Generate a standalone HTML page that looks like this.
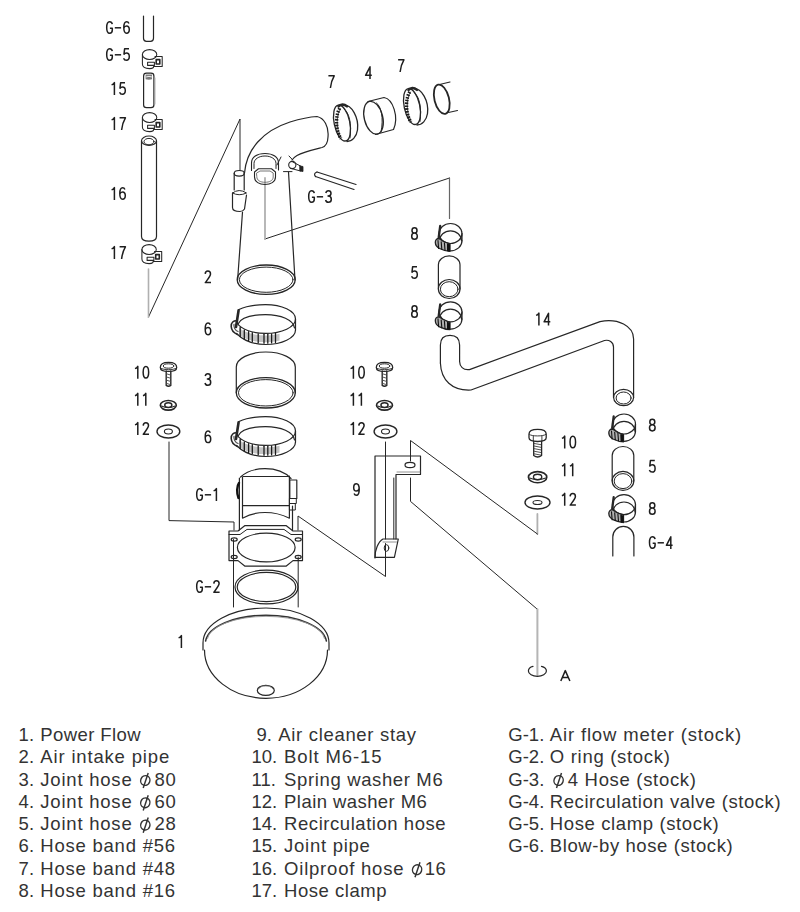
<!DOCTYPE html>
<html><head><meta charset="utf-8">
<style>
html,body{margin:0;padding:0;background:#fff;width:800px;height:912px;overflow:hidden}
svg{position:absolute;left:0;top:0}
.lg{position:absolute;font-family:"Liberation Sans",sans-serif;font-size:19px;color:#333;line-height:22.3px;white-space:pre;letter-spacing:0.25px;word-spacing:1px}
</style></head><body>
<svg width="800" height="912" viewBox="0 0 800 912">
<g fill="none" stroke="#262626" stroke-width="1.2" stroke-linejoin="round" stroke-linecap="round">
<path d="M148.5,317 L240,119 V170.5" stroke-width="1"/>
<path d="M148.5,269 V317" stroke="#b0b0b0" stroke-width="1.6"/>
<path d="M265,239 L449.5,178" stroke-width="1"/>
<path d="M265,178 V239" stroke="#b0b0b0" stroke-width="1.8"/>
<path d="M449.5,178 V218.5" stroke="#666" stroke-width="1.2"/>
<path d="M169,442 V520.6 L234,522 V530" stroke-width="1"/>
<path d="M385.5,442 V539 M385.5,543.5 V576.5 L298,516 V530" stroke-width="1"/>
<path d="M537.4,514 V534" stroke="#b0b0b0" stroke-width="1.8"/>
<path d="M537.4,534 L410.5,440.5 V461" stroke-width="1"/>
<path d="M410.5,478 V501.4 L537.4,609.3" stroke-width="1"/>
<path d="M537.4,609.3 V675" stroke="#b5b5b5" stroke-width="2"/>
<path d="M143.5,16 V38.3 Q143.5,41.3 146.5,41.3 H150.5 Q153.5,41.3 153.5,38.3 V16" />
<g transform="translate(0 -63)" stroke-width="1.05">
<ellipse cx="149.6" cy="117.5" rx="7.2" ry="4.9" />
<path d="M142.4,117.5 V127 Q142.4,131.6 149.6,131.6 Q152,131.6 153.5,130.5" />
<path d="M155,119.5 H162.2 V129.4 H153.5" />
<rect x="156.2" y="122.6" width="3.6" height="4.4" stroke-width="1.6"/>
<rect x="147.6" y="125.2" width="6.8" height="3.2"/>
</g>
<path d="M143.6,76 V105 Q143.6,107.7 146.5,107.7 H151 Q153.9,107.7 153.9,105 V76 Q153.9,73.2 151,73.2 H146.5 Q143.6,73.2 143.6,76 Z" />
<path d="M145.6,74.6 H152 V79.3 Q149,80.2 145.6,79.3 Z" fill="#7a7a7a" stroke="none"/>
<path d="M146.5,76.8 Q149,75.8 151.5,76.8" stroke="#eee" stroke-width="1"/>
<path d="M155,78 V104" stroke="#aaa" stroke-width="0.9"/>
<g transform="translate(0 0)" stroke-width="1.05">
<ellipse cx="149.6" cy="117.5" rx="7.2" ry="4.9" />
<path d="M142.4,117.5 V127 Q142.4,131.6 149.6,131.6 Q152,131.6 153.5,130.5" />
<path d="M155,119.5 H162.2 V129.4 H153.5" />
<rect x="156.2" y="122.6" width="3.6" height="4.4" stroke-width="1.6"/>
<rect x="147.6" y="125.2" width="6.8" height="3.2"/>
</g>
<path d="M141.5,140.75 V236.5 Q141.5,241.2 149,241.2 Q156.5,241.2 156.5,236.5 V140.75" />
<ellipse cx="149" cy="140.75" rx="7.5" ry="4.75" />
<ellipse cx="149" cy="141.6" rx="5" ry="3.2" stroke-width="1"/>
<g transform="translate(-0.5 132)" stroke-width="1.05">
<ellipse cx="149.6" cy="117.5" rx="7.2" ry="4.9" />
<path d="M142.4,117.5 V127 Q142.4,131.6 149.6,131.6 Q152,131.6 153.5,130.5" />
<path d="M155,119.5 H162.2 V129.4 H153.5" />
<rect x="156.2" y="122.6" width="3.6" height="4.4" stroke-width="1.6"/>
<rect x="147.6" y="125.2" width="6.8" height="3.2"/>
</g>
<path d="M244.5,173 C246.5,150 262,131 290,122 C300,119 309,117 317,116.5 C324,118 329,126 328,137 C327.8,142 327,146 322,147.5 C314,149.5 303,152 297,155.5 C294.5,157 293,158.5 292,160" />
<path d="M242.5,212 L237.6,280" />
<path d="M288.5,172 L295,280" />
<ellipse cx="266.2" cy="279.7" rx="29" ry="14.7" stroke-width="1.3"/>
<ellipse cx="266.2" cy="279.7" rx="26.8" ry="12.6" stroke-width="1"/>
<ellipse cx="239.2" cy="173.3" rx="5" ry="2.8" />
<path d="M234.2,173.3 V190 M244.2,173.3 V190" />
<path d="M232.5,193 V207.5 Q232.5,211.5 240,211.5 Q243,211.5 244.5,209 L246.5,195" />
<path d="M232.5,193 Q239,188 246.5,193 Q239,196.5 232.5,193" stroke-width="1"/>
<path d="M251.5,170.5 V163 C251.5,157 257,153.5 265,153.5 C273,153.5 278.5,157 278.5,163 V170" stroke-width="1.1"/>
<path d="M254,168.5 V163.5 C254,159 259,156 265,156 C271,156 276,159 276,163.5 V168.5" stroke-width="1"/>
<path d="M277,165 L281,157" stroke-width="1"/>
<path d="M254.5,172 L258.5,168.8 H271.5 L275.5,172 V177 C275.5,182 270.5,184.5 265,184.5 C259.5,184.5 254.5,182 254.5,177 Z" stroke-width="1.1"/>
<path d="M256.8,173 L260,171 H270 L273.2,173 V177 C273.2,180.5 269.5,182.3 265,182.3 C260.5,182.3 256.8,180.5 256.8,177 Z" stroke-width="0.9" stroke="#666"/>
<circle cx="292.3" cy="165" r="3.6" stroke-width="1.1"/>
<path d="M292.5,161.8 L301,166.3 M290.5,168.3 L300.5,171" stroke-width="1"/>
<path d="M300,166 L303,166.5 L303,171.5 L300,171 Z" fill="#222" stroke="#222" stroke-width="0.8"/>
<path d="M283.5,171.6 H292 M289,156 L292.8,160" stroke-width="1"/>
<path d="M317,172 L356,184.5 M315.5,176.5 L354,189.5" stroke-width="1.2"/>
<path d="M317,172 Q313,173.5 315.5,176.5" />
<g transform="translate(0 0)">
<ellipse cx="342" cy="123" rx="7.8" ry="18.3" transform="rotate(-12 342 123)" stroke-width="1.3"/>
<path d="M342.5,105 C352,104 359,118 357.5,130 C356.5,137 352,141.5 347,141.5" stroke-width="1.3"/>
<path d="M344,109 C349,112 352,124 350,138" stroke-width="1"/>
<path d="M340.5,108.5 C336.5,114 335.5,128 341,137.5" stroke-width="0.9" stroke="#555"/>
<path d="M339.8,108.5 C335.6,114 335,130 341,138.5" stroke="#1a1a1a" stroke-width="3.4" stroke-linecap="butt" stroke-dasharray="1.6 1.2"/>
<path d="M338.5,106.5 C340.5,104 344,103.5 347,106.5" stroke-width="2.4"/>
</g>
<g transform="translate(70 -16.5)">
<ellipse cx="342" cy="123" rx="7.8" ry="18.3" transform="rotate(-12 342 123)" stroke-width="1.3"/>
<path d="M342.5,105 C352,104 359,118 357.5,130 C356.5,137 352,141.5 347,141.5" stroke-width="1.3"/>
<path d="M344,109 C349,112 352,124 350,138" stroke-width="1"/>
<path d="M340.5,108.5 C336.5,114 335.5,128 341,137.5" stroke-width="0.9" stroke="#555"/>
<path d="M339.8,108.5 C335.6,114 335,130 341,138.5" stroke="#1a1a1a" stroke-width="3.4" stroke-linecap="butt" stroke-dasharray="1.6 1.2"/>
<path d="M338.5,106.5 C340.5,104 344,103.5 347,106.5" stroke-width="2.4"/>
</g>
<ellipse cx="373.5" cy="117.75" rx="9.2" ry="16.8" transform="rotate(-14 373.5 117.75)" stroke-width="1.3"/>
<path d="M376.5,103 C381,106 384,118 381,132" stroke-width="1"/>
<path d="M368,101.5 L384,97.5 C393,99 399,117 393.5,129.5 L375.5,134.5" stroke-width="1.2"/>
<ellipse cx="441.75" cy="99.25" rx="7.3" ry="15" transform="rotate(-14 441.75 99.25)" stroke-width="1.8"/>
<path d="M439.5,84.5 L450,82 M448.5,112.5 L457.5,110.5" stroke-width="1.1"/>
<g transform="translate(0 0)">
<path d="M239,309.5 C246,306 255,304.6 265.5,304.6 C282,304.6 295.5,311 295.5,319 C295.5,327 282,333.4 265.5,333.4 C252,333.4 241,329 237,323" />
<path d="M238,324 C241,317 251,314.6 265.5,314.6 C281,314.6 293.5,320 294.5,328" />
<path d="M295.5,319 V330" />
<path d="M236.5,333.5 C243,340 253,344.5 265.5,344.5 C282,344.5 295.5,338 295.5,330" />
<path d="M239.0,327.7 L239.5,328.2 L240.0,328.6 L240.5,329.0 L241.0,329.3 L241.5,329.6 L242.0,330.0 L242.5,330.2 L243.0,330.5 L243.5,330.8 L244.0,331.0 L244.5,331.3 L245.0,331.5 L245.5,331.7 L246.0,331.9 L246.5,332.1 L247.0,332.3 L247.5,332.5 L248.0,332.7 L248.5,332.9 L249.0,333.0 L249.5,333.2 L250.0,333.3 L250.5,333.5 L251.0,333.6 L251.5,333.7 L252.0,333.9 L252.5,334.0 L253.0,334.1 L253.5,334.2 L254.0,334.3 L254.5,334.4 L255.0,334.5 L255.5,334.6 L256.0,334.7 L256.5,334.7 L257.0,334.8 L257.5,334.9 L258.0,334.9 L258.5,335.0 L259.0,335.1 L259.5,335.1 L260.0,335.2 L260.5,335.2 L261.0,335.2 L261.5,335.3 L262.0,335.3 L262.5,335.3 L263.0,335.3 L263.5,335.4 L264.0,335.4 L264.5,335.4 L265.0,335.4 L265.5,335.4 L266.0,335.4 L266.5,335.4 L267.0,335.4 L267.5,335.4 L268.0,335.3 L268.5,335.3 L269.0,335.3 L269.5,335.3 L270.0,335.2 L270.5,335.2 L271.0,335.2 L271.5,335.1 L272.0,335.1 L272.5,335.0 L273.0,334.9 L273.5,334.9 L274.0,334.8 L274.5,334.7 L275.0,334.7 L275.5,334.6 L276.0,334.5 L276.5,334.4 L277.0,334.3 L277.5,334.2 L278.0,334.1 L278.5,334.0 L279.0,333.9 L279.5,333.7 L279.5,340.5 L279.0,340.7 L278.5,340.8 L278.0,340.9 L277.5,341.0 L277.0,341.1 L276.5,341.2 L276.0,341.3 L275.5,341.4 L275.0,341.5 L274.5,341.5 L274.0,341.6 L273.5,341.7 L273.0,341.7 L272.5,341.8 L272.0,341.9 L271.5,341.9 L271.0,342.0 L270.5,342.0 L270.0,342.0 L269.5,342.1 L269.0,342.1 L268.5,342.1 L268.0,342.1 L267.5,342.2 L267.0,342.2 L266.5,342.2 L266.0,342.2 L265.5,342.2 L265.0,342.2 L264.5,342.2 L264.0,342.2 L263.5,342.2 L263.0,342.1 L262.5,342.1 L262.0,342.1 L261.5,342.1 L261.0,342.0 L260.5,342.0 L260.0,342.0 L259.5,341.9 L259.0,341.9 L258.5,341.8 L258.0,341.7 L257.5,341.7 L257.0,341.6 L256.5,341.5 L256.0,341.5 L255.5,341.4 L255.0,341.3 L254.5,341.2 L254.0,341.1 L253.5,341.0 L253.0,340.9 L252.5,340.8 L252.0,340.7 L251.5,340.5 L251.0,340.4 L250.5,340.3 L250.0,340.1 L249.5,340.0 L249.0,339.8 L248.5,339.7 L248.0,339.5 L247.5,339.3 L247.0,339.1 L246.5,338.9 L246.0,338.7 L245.5,338.5 L245.0,338.3 L244.5,338.1 L244.0,337.8 L243.5,337.6 L243.0,337.3 L242.5,337.0 L242.0,336.8 L241.5,336.4 L241.0,336.1 L240.5,335.8 L240.0,335.4 L239.5,335.0 L239.0,334.5 Z" fill="#8a8a8a" stroke="none" opacity="0.5"/>
<line x1="240.2" y1="327.5" x2="240.2" y2="336.5" stroke-width="1.3" stroke="#1a1a1a"/>
<line x1="244.3" y1="330.0" x2="244.3" y2="339.0" stroke-width="1.3" stroke="#1a1a1a"/>
<line x1="248.6" y1="331.7" x2="248.6" y2="340.7" stroke-width="1.3" stroke="#1a1a1a"/>
<line x1="252.3" y1="332.7" x2="252.3" y2="341.7" stroke-width="1.3" stroke="#1a1a1a"/>
<line x1="258.2" y1="333.8" x2="258.2" y2="342.8" stroke-width="1.3" stroke="#1a1a1a"/>
<line x1="264.0" y1="334.2" x2="264.0" y2="343.2" stroke-width="1.3" stroke="#1a1a1a"/>
<line x1="267.8" y1="334.2" x2="267.8" y2="343.2" stroke-width="1.3" stroke="#1a1a1a"/>
<line x1="271.6" y1="333.9" x2="271.6" y2="342.9" stroke-width="1.3" stroke="#1a1a1a"/>
<line x1="275.5" y1="333.4" x2="275.5" y2="342.4" stroke-width="1.3" stroke="#1a1a1a"/>
<path d="M238.6,310.3 L236,327" stroke-width="2.6"/>
<path d="M237,320.8 C233.5,320.5 231,322.5 231.2,326.5 C231.4,330 234,333 237.5,334.5" stroke-width="1.6"/>
<path d="M234,324.5 C233.5,327 235,330.5 238,331.5" stroke-width="1.3" stroke="#555"/>
</g>
<path d="M236.3,392.8 V367 A29.5,15 0 0 1 295.3,367 V392.8" />
<ellipse cx="265.8" cy="392.8" rx="29.5" ry="15.2" stroke-width="1.3"/>
<ellipse cx="265.8" cy="392.8" rx="27.3" ry="13.2" stroke-width="1"/>
<g transform="translate(0 112)">
<path d="M239,309.5 C246,306 255,304.6 265.5,304.6 C282,304.6 295.5,311 295.5,319 C295.5,327 282,333.4 265.5,333.4 C252,333.4 241,329 237,323" />
<path d="M238,324 C241,317 251,314.6 265.5,314.6 C281,314.6 293.5,320 294.5,328" />
<path d="M295.5,319 V330" />
<path d="M236.5,333.5 C243,340 253,344.5 265.5,344.5 C282,344.5 295.5,338 295.5,330" />
<path d="M239.0,327.7 L239.5,328.2 L240.0,328.6 L240.5,329.0 L241.0,329.3 L241.5,329.6 L242.0,330.0 L242.5,330.2 L243.0,330.5 L243.5,330.8 L244.0,331.0 L244.5,331.3 L245.0,331.5 L245.5,331.7 L246.0,331.9 L246.5,332.1 L247.0,332.3 L247.5,332.5 L248.0,332.7 L248.5,332.9 L249.0,333.0 L249.5,333.2 L250.0,333.3 L250.5,333.5 L251.0,333.6 L251.5,333.7 L252.0,333.9 L252.5,334.0 L253.0,334.1 L253.5,334.2 L254.0,334.3 L254.5,334.4 L255.0,334.5 L255.5,334.6 L256.0,334.7 L256.5,334.7 L257.0,334.8 L257.5,334.9 L258.0,334.9 L258.5,335.0 L259.0,335.1 L259.5,335.1 L260.0,335.2 L260.5,335.2 L261.0,335.2 L261.5,335.3 L262.0,335.3 L262.5,335.3 L263.0,335.3 L263.5,335.4 L264.0,335.4 L264.5,335.4 L265.0,335.4 L265.5,335.4 L266.0,335.4 L266.5,335.4 L267.0,335.4 L267.5,335.4 L268.0,335.3 L268.5,335.3 L269.0,335.3 L269.5,335.3 L270.0,335.2 L270.5,335.2 L271.0,335.2 L271.5,335.1 L272.0,335.1 L272.5,335.0 L273.0,334.9 L273.5,334.9 L274.0,334.8 L274.5,334.7 L275.0,334.7 L275.5,334.6 L276.0,334.5 L276.5,334.4 L277.0,334.3 L277.5,334.2 L278.0,334.1 L278.5,334.0 L279.0,333.9 L279.5,333.7 L279.5,340.5 L279.0,340.7 L278.5,340.8 L278.0,340.9 L277.5,341.0 L277.0,341.1 L276.5,341.2 L276.0,341.3 L275.5,341.4 L275.0,341.5 L274.5,341.5 L274.0,341.6 L273.5,341.7 L273.0,341.7 L272.5,341.8 L272.0,341.9 L271.5,341.9 L271.0,342.0 L270.5,342.0 L270.0,342.0 L269.5,342.1 L269.0,342.1 L268.5,342.1 L268.0,342.1 L267.5,342.2 L267.0,342.2 L266.5,342.2 L266.0,342.2 L265.5,342.2 L265.0,342.2 L264.5,342.2 L264.0,342.2 L263.5,342.2 L263.0,342.1 L262.5,342.1 L262.0,342.1 L261.5,342.1 L261.0,342.0 L260.5,342.0 L260.0,342.0 L259.5,341.9 L259.0,341.9 L258.5,341.8 L258.0,341.7 L257.5,341.7 L257.0,341.6 L256.5,341.5 L256.0,341.5 L255.5,341.4 L255.0,341.3 L254.5,341.2 L254.0,341.1 L253.5,341.0 L253.0,340.9 L252.5,340.8 L252.0,340.7 L251.5,340.5 L251.0,340.4 L250.5,340.3 L250.0,340.1 L249.5,340.0 L249.0,339.8 L248.5,339.7 L248.0,339.5 L247.5,339.3 L247.0,339.1 L246.5,338.9 L246.0,338.7 L245.5,338.5 L245.0,338.3 L244.5,338.1 L244.0,337.8 L243.5,337.6 L243.0,337.3 L242.5,337.0 L242.0,336.8 L241.5,336.4 L241.0,336.1 L240.5,335.8 L240.0,335.4 L239.5,335.0 L239.0,334.5 Z" fill="#8a8a8a" stroke="none" opacity="0.5"/>
<line x1="240.2" y1="327.5" x2="240.2" y2="336.5" stroke-width="1.3" stroke="#1a1a1a"/>
<line x1="244.3" y1="330.0" x2="244.3" y2="339.0" stroke-width="1.3" stroke="#1a1a1a"/>
<line x1="248.6" y1="331.7" x2="248.6" y2="340.7" stroke-width="1.3" stroke="#1a1a1a"/>
<line x1="252.3" y1="332.7" x2="252.3" y2="341.7" stroke-width="1.3" stroke="#1a1a1a"/>
<line x1="258.2" y1="333.8" x2="258.2" y2="342.8" stroke-width="1.3" stroke="#1a1a1a"/>
<line x1="264.0" y1="334.2" x2="264.0" y2="343.2" stroke-width="1.3" stroke="#1a1a1a"/>
<line x1="267.8" y1="334.2" x2="267.8" y2="343.2" stroke-width="1.3" stroke="#1a1a1a"/>
<line x1="271.6" y1="333.9" x2="271.6" y2="342.9" stroke-width="1.3" stroke="#1a1a1a"/>
<line x1="275.5" y1="333.4" x2="275.5" y2="342.4" stroke-width="1.3" stroke="#1a1a1a"/>
<path d="M238.6,310.3 L236,327" stroke-width="2.6"/>
<path d="M237,320.8 C233.5,320.5 231,322.5 231.2,326.5 C231.4,330 234,333 237.5,334.5" stroke-width="1.6"/>
<path d="M234,324.5 C233.5,327 235,330.5 238,331.5" stroke-width="1.3" stroke="#555"/>
</g>
<path d="M240.6,477 C248,470 257,468.7 265,468.7 C273,468.7 283,470 291,478.5" />
<path d="M243,476.5 H289" />
<path d="M239.4,478 V530 M242.5,477 V518 M289.4,476 V518 M292.5,506 V530" />
<path d="M243,505.6 H289" />
<path d="M243,518 C250,514 258,512.5 265,512.5 C272,512.5 281,514 289,518" />
<rect x="289.8" y="480" width="7" height="18.5"/>
<rect x="289.8" y="498.5" width="6.5" height="5" stroke-width="1"/>
<rect x="289.8" y="503.5" width="5.5" height="6.5" stroke-width="1"/>
<path d="M239,483 C236.8,486 236.5,493 238.5,498" stroke-width="2.4" stroke="#111"/>
<path d="M229,531 H238 L245,525.6 H286 L293,531 H302.5 V560.6 H293 L286,566.2 H245 L238,560.6 H229 Z" stroke-width="1.2"/>
<path d="M229,534.5 H240 L247,529.4 H284 L291,534.5 H302.5" stroke-width="1"/>
<path d="M233.5,539.5 V560" stroke-width="1"/>
<ellipse cx="266.25" cy="547.5" rx="28.85" ry="14.4" stroke-width="1.2"/>
<ellipse cx="234.2" cy="539.5" rx="3" ry="1.6" stroke-width="1.2"/>
<ellipse cx="298.2" cy="539.5" rx="3" ry="1.6" stroke-width="1.2"/>
<ellipse cx="234.2" cy="557" rx="3" ry="1.6" stroke-width="1.2"/>
<ellipse cx="298.2" cy="557" rx="3" ry="1.6" stroke-width="1.2"/>
<path d="M233.5,560 V607 M298.2,557 V607" stroke-width="1"/>
<ellipse cx="266.5" cy="587" rx="31.5" ry="16.9" stroke-width="1.2"/>
<ellipse cx="266.5" cy="587" rx="29.3" ry="14.6" stroke-width="1.2"/>
<path d="M203,650 V643 A63,35 0 0 1 329,643 V650" stroke-width="1.2"/>
<path d="M205.6,641 A60.6,28 0 0 1 326.4,641" stroke-width="1.5" stroke="#333"/>
<path d="M207.5,638.5 A58.6,23.5 0 0 1 324.5,638.5" stroke-width="0.9" stroke="#999"/>
<path d="M204.5,650 A61.5,48.3 0 0 0 327.5,650" stroke-width="1.2"/>
<ellipse cx="265.8" cy="690.4" rx="8.5" ry="5" stroke-width="1.2"/>
<path d="M258.5,689 C260,686.5 263,686 265.8,686 C268.5,686 271.5,686.5 273,689" stroke-width="0.8" stroke="#888"/>
<path d="M160.3,367.4 C160.3,364.0 164.0,362.4 168.5,362.4 C173.0,362.4 176.7,364.0 176.7,367.4 C176.7,370.0 173.0,371.4 168.5,371.4 C164.0,371.4 160.3,370.0 160.3,367.4 Z" stroke-width="1.3"/>
<ellipse cx="168.5" cy="366.0" rx="5.2" ry="2.2" stroke-width="1"/>
<path d="M160.7,368.2 C163.5,370.2 173.5,370.2 176.3,368.2" stroke-width="0.9"/>
<path d="M166.2,370.9 V385.4 Q168.5,387.2 170.8,385.4 V370.9" stroke-width="1.4"/>
<line x1="166.9" y1="373.9" x2="170.1" y2="374.9" stroke-width="1" stroke="#555"/>
<line x1="166.9" y1="377.1" x2="170.1" y2="378.1" stroke-width="1" stroke="#555"/>
<line x1="166.9" y1="380.3" x2="170.1" y2="381.3" stroke-width="1" stroke="#555"/>
<line x1="166.9" y1="383.5" x2="170.1" y2="384.5" stroke-width="1" stroke="#555"/>
<ellipse cx="168.3" cy="405.3" rx="8" ry="4.8" stroke-width="1.6"/>
<ellipse cx="168.3" cy="405.1" rx="3.6" ry="2.304" stroke-width="1.4"/>
<path d="M161.5,406.1 Q168.3,409.3 175.10000000000002,406.1" stroke-width="1.1"/>
<ellipse cx="168.4" cy="431.5" rx="11.4" ry="6.5" stroke-width="1.4"/>
<ellipse cx="168.4" cy="431.5" rx="4" ry="2.5" stroke-width="1.1"/>
<path d="M376.3,367.4 C376.3,364.0 380.0,362.4 384.5,362.4 C389.0,362.4 392.7,364.0 392.7,367.4 C392.7,370.0 389.0,371.4 384.5,371.4 C380.0,371.4 376.3,370.0 376.3,367.4 Z" stroke-width="1.3"/>
<ellipse cx="384.5" cy="366.0" rx="5.2" ry="2.2" stroke-width="1"/>
<path d="M376.7,368.2 C379.5,370.2 389.5,370.2 392.3,368.2" stroke-width="0.9"/>
<path d="M382.2,370.9 V385.4 Q384.5,387.2 386.8,385.4 V370.9" stroke-width="1.4"/>
<line x1="382.9" y1="373.9" x2="386.1" y2="374.9" stroke-width="1" stroke="#555"/>
<line x1="382.9" y1="377.1" x2="386.1" y2="378.1" stroke-width="1" stroke="#555"/>
<line x1="382.9" y1="380.3" x2="386.1" y2="381.3" stroke-width="1" stroke="#555"/>
<line x1="382.9" y1="383.5" x2="386.1" y2="384.5" stroke-width="1" stroke="#555"/>
<ellipse cx="384.5" cy="405.3" rx="8" ry="4.8" stroke-width="1.6"/>
<ellipse cx="384.5" cy="405.1" rx="3.6" ry="2.304" stroke-width="1.4"/>
<path d="M377.7,406.1 Q384.5,409.3 391.3,406.1" stroke-width="1.1"/>
<ellipse cx="385.5" cy="431.5" rx="11.4" ry="6.5" stroke-width="1.4"/>
<ellipse cx="385.5" cy="431.5" rx="4" ry="2.5" stroke-width="1.1"/>
<path d="M529,434 C529,430.5 533,429.3 537.6,429.3 C542,429.3 546.2,430.5 546.2,434 V437.8 C546.2,440.2 542,441.5 537.6,441.5 C533,441.5 529,440.2 529,437.8 Z" stroke-width="1.3"/>
<path d="M529.5,434.5 C531,436.5 544,436.5 545.7,434.5" stroke-width="0.9"/>
<path d="M533.3,436.3 V441 M541.9,436.3 V441" stroke-width="0.9"/>
<path d="M533.7,441.3 V455.5 Q537.6,458.5 541.6,455.5 V441.3" stroke-width="1.3"/>
<line x1="534.5" y1="443.5" x2="540.8" y2="444.7" stroke-width="0.8"/>
<line x1="534.5" y1="446.1" x2="540.8" y2="447.3" stroke-width="0.8"/>
<line x1="534.5" y1="448.7" x2="540.8" y2="449.9" stroke-width="0.8"/>
<line x1="534.5" y1="451.3" x2="540.8" y2="452.5" stroke-width="0.8"/>
<line x1="534.5" y1="453.9" x2="540.8" y2="455.1" stroke-width="0.8"/>
<ellipse cx="537.6" cy="477.2" rx="9.2" ry="5.6" stroke-width="1.6"/>
<ellipse cx="537.6" cy="477.0" rx="4.14" ry="2.6879999999999997" stroke-width="1.4"/>
<path d="M529.6,478.0 Q537.6,481.2 545.6,478.0" stroke-width="1.1"/>
<ellipse cx="537.5" cy="502.5" rx="12.5" ry="6.5" stroke-width="1.4"/>
<ellipse cx="537.5" cy="502.5" rx="4.5" ry="2" stroke-width="1.1"/>
<path d="M375,558 V456 H420.5 V474.5 H396 V539" stroke-width="1.2"/>
<path d="M393.8,478 V539" stroke-width="1"/>
<path d="M397,472 H420" stroke-width="0.8" stroke="#777"/>
<path d="M383,539 H398.3 L394.4,557.4 H375 C375,550 378,542 383,539 Z" stroke-width="1.2"/>
<path d="M383,542 H396.5" stroke-width="0.8" stroke="#777"/>
<ellipse cx="386.5" cy="548" rx="2.3" ry="3.3" stroke-width="1"/>
<ellipse cx="410" cy="465" rx="5" ry="2.6" stroke-width="1.2"/>
<ellipse cx="450.5" cy="233.5" rx="11.5" ry="10" />
<path d="M439.5,240.8 A11.0,10 0 0 1 461.5,240.8" />
<path d="M439.0,240.8 A11.5,10 0 0 0 462.0,240.8" />
<path d="M462.0,233.5 V240.8" />
<path d="M440.2,226.0 L438.7,237.5" stroke-width="2.3"/>
<path d="M439.0,238.5 C434.0,238.5 434.0,245.5 439.5,248.5 C443.5,250.5 447.5,251.3 450.0,251.3 L450.0,244.0 C446.5,243.0 442.5,241.5 439.0,238.5 Z" fill="#b0b0b0" stroke="#222" stroke-width="1.3"/>
<line x1="438.0" y1="240.5" x2="438.6" y2="248.5" stroke="#111" stroke-width="1.1"/>
<line x1="441.2" y1="241.7" x2="441.8" y2="249.3" stroke="#111" stroke-width="1.1"/>
<line x1="444.4" y1="242.9" x2="445.0" y2="250.1" stroke="#111" stroke-width="1.1"/>
<line x1="447.6" y1="244.1" x2="448.2" y2="250.9" stroke="#111" stroke-width="1.1"/>
<path d="M447.0,243.8 L450.0,244.3 L450.0,251.3 L447.0,250.9 Z" fill="#111" stroke="none"/>
<path d="M438.4,289.0 V264.8 A10.8,9 0 0 1 460.0,264.8 V289.0" />
<ellipse cx="449.2" cy="289.0" rx="10.8" ry="9.5" />
<ellipse cx="449.2" cy="289.2" rx="8.8" ry="7.5" stroke-width="1"/>
<ellipse cx="450.5" cy="311.8" rx="11.5" ry="10" />
<path d="M439.5,319.1 A11.0,10 0 0 1 461.5,319.1" />
<path d="M439.0,319.1 A11.5,10 0 0 0 462.0,319.1" />
<path d="M462.0,311.8 V319.1" />
<path d="M440.2,304.3 L438.7,315.8" stroke-width="2.3"/>
<path d="M439.0,316.8 C434.0,316.8 434.0,323.8 439.5,326.8 C443.5,328.8 447.5,329.6 450.0,329.6 L450.0,322.3 C446.5,321.3 442.5,319.8 439.0,316.8 Z" fill="#b0b0b0" stroke="#222" stroke-width="1.3"/>
<line x1="438.0" y1="318.8" x2="438.6" y2="326.8" stroke="#111" stroke-width="1.1"/>
<line x1="441.2" y1="320.0" x2="441.8" y2="327.6" stroke="#111" stroke-width="1.1"/>
<line x1="444.4" y1="321.2" x2="445.0" y2="328.4" stroke="#111" stroke-width="1.1"/>
<line x1="447.6" y1="322.4" x2="448.2" y2="329.2" stroke="#111" stroke-width="1.1"/>
<path d="M447.0,322.1 L450.0,322.6 L450.0,329.6 L447.0,329.2 Z" fill="#111" stroke="none"/>
<path d="M440.4,363 V345 C440.4,338 444,335.4 450,335.4 C456,335.4 459.6,338 459.6,345 V361.5 C459.6,366 463,370.5 469.5,369.6 L600,321.6 C618,318 633.6,326 633.6,339 V397.5" stroke-width="1.2"/>
<path d="M440.4,363 C441,380 452,391 471,390 L604.5,340.5 C609,339.5 613.5,342 613.5,347 V397.5" stroke-width="1.2"/>
<ellipse cx="623.6" cy="397.5" rx="10" ry="8.2" stroke-width="1.2"/>
<ellipse cx="623.6" cy="398" rx="7.5" ry="6" stroke-width="1"/>
<ellipse cx="624" cy="424" rx="11.5" ry="10" />
<path d="M613.0,431.3 A11.0,10 0 0 1 635.0,431.3" />
<path d="M612.5,431.3 A11.5,10 0 0 0 635.5,431.3" />
<path d="M635.5,424 V431.3" />
<path d="M613.7,416.5 L612.2,428" stroke-width="2.3"/>
<path d="M612.5,429 C607.5,429 607.5,436 613,439 C617,441 621,441.8 623.5,441.8 L623.5,434.5 C620,433.5 616,432 612.5,429 Z" fill="#b0b0b0" stroke="#222" stroke-width="1.3"/>
<line x1="611.5" y1="431.0" x2="612.1" y2="439.0" stroke="#111" stroke-width="1.1"/>
<line x1="614.7" y1="432.2" x2="615.3" y2="439.8" stroke="#111" stroke-width="1.1"/>
<line x1="617.9" y1="433.4" x2="618.5" y2="440.6" stroke="#111" stroke-width="1.1"/>
<line x1="621.1" y1="434.6" x2="621.7" y2="441.4" stroke="#111" stroke-width="1.1"/>
<path d="M620.5,434.3 L623.5,434.8 L623.5,441.8 L620.5,441.4 Z" fill="#111" stroke="none"/>
<path d="M612.2,480.9 V455.5 A10.8,9 0 0 1 633.8,455.5 V480.9" />
<ellipse cx="623" cy="480.9" rx="10.8" ry="9.5" />
<ellipse cx="623" cy="481.09999999999997" rx="8.8" ry="7.5" stroke-width="1"/>
<ellipse cx="624" cy="504.7" rx="11.5" ry="10" />
<path d="M613.0,512.0 A11.0,10 0 0 1 635.0,512.0" />
<path d="M612.5,512.0 A11.5,10 0 0 0 635.5,512.0" />
<path d="M635.5,504.7 V512.0" />
<path d="M613.7,497.2 L612.2,508.7" stroke-width="2.3"/>
<path d="M612.5,509.7 C607.5,509.7 607.5,516.7 613,519.7 C617,521.7 621,522.5 623.5,522.5 L623.5,515.2 C620,514.2 616,512.7 612.5,509.7 Z" fill="#b0b0b0" stroke="#222" stroke-width="1.3"/>
<line x1="611.5" y1="511.7" x2="612.1" y2="519.7" stroke="#111" stroke-width="1.1"/>
<line x1="614.7" y1="512.9" x2="615.3" y2="520.5" stroke="#111" stroke-width="1.1"/>
<line x1="617.9" y1="514.1" x2="618.5" y2="521.3" stroke="#111" stroke-width="1.1"/>
<line x1="621.1" y1="515.3" x2="621.7" y2="522.1" stroke="#111" stroke-width="1.1"/>
<path d="M620.5,515.0 L623.5,515.5 L623.5,522.5 L620.5,522.1 Z" fill="#111" stroke="none"/>
<path d="M612.8,556 V537 A10.55,10.6 0 0 1 633.9,537 V556" stroke-width="1.2"/>
<path d="M533,666.3 C530,667 528.4,669 528.4,671 C528.4,674 532.5,676.4 537.4,676.4 C542.3,676.4 546.4,674 546.4,671 C546.4,669 544.5,667 541.5,666.3" stroke-width="1.2"/>
</g>
<g fill="none" stroke="#1e1e1e" stroke-width="1.5" stroke-linecap="butt" stroke-linejoin="round">
<path transform="translate(106.00 21.00)" d="M6.3,3.2 C6,1.6 5,0.7 3.6,0.7 C1.7,0.7 0.7,2.9 0.7,6.5 C0.7,10.1 1.7,12.3 3.6,12.3 C5.3,12.3 6.3,11.2 6.3,9 V7.2 H3.9"/>
<path transform="translate(114.50 21.00)" d="M0.3,6.8 H6.6"/>
<path transform="translate(123.00 21.00)" d="M5.9,2.4 C5.5,1.3 4.6,0.7 3.6,0.7 C1.8,0.7 0.8,2.9 0.8,6.6 C0.8,10.3 1.8,12.3 3.6,12.3 C5.3,12.3 6.3,10.8 6.3,8.6 C6.3,6.4 5.3,5 3.6,5 C2.3,5 1.3,5.8 0.9,7"/>
<path transform="translate(106.00 48.00)" d="M6.3,3.2 C6,1.6 5,0.7 3.6,0.7 C1.7,0.7 0.7,2.9 0.7,6.5 C0.7,10.1 1.7,12.3 3.6,12.3 C5.3,12.3 6.3,11.2 6.3,9 V7.2 H3.9"/>
<path transform="translate(114.50 48.00)" d="M0.3,6.8 H6.6"/>
<path transform="translate(123.00 48.00)" d="M6,0.8 H1.6 L1,6.2 C1.6,5.4 2.5,5 3.4,5 C5.2,5 6.3,6.3 6.3,8.6 C6.3,10.9 5.1,12.3 3.4,12.3 C2,12.3 1,11.5 0.6,10.2"/>
<path transform="translate(111.00 82.00)" d="M0.6,2.9 C1.8,2.5 2.9,1.6 3.4,0.6 V13"/>
<path transform="translate(119.00 82.00)" d="M6,0.8 H1.6 L1,6.2 C1.6,5.4 2.5,5 3.4,5 C5.2,5 6.3,6.3 6.3,8.6 C6.3,10.9 5.1,12.3 3.4,12.3 C2,12.3 1,11.5 0.6,10.2"/>
<path transform="translate(111.00 117.00)" d="M0.6,2.9 C1.8,2.5 2.9,1.6 3.4,0.6 V13"/>
<path transform="translate(119.00 117.00)" d="M0.6,0.8 H6.4 C4.6,3.8 3.2,7.6 2.6,13"/>
<path transform="translate(111.00 187.00)" d="M0.6,2.9 C1.8,2.5 2.9,1.6 3.4,0.6 V13"/>
<path transform="translate(119.00 187.00)" d="M5.9,2.4 C5.5,1.3 4.6,0.7 3.6,0.7 C1.8,0.7 0.8,2.9 0.8,6.6 C0.8,10.3 1.8,12.3 3.6,12.3 C5.3,12.3 6.3,10.8 6.3,8.6 C6.3,6.4 5.3,5 3.6,5 C2.3,5 1.3,5.8 0.9,7"/>
<path transform="translate(111.00 246.00)" d="M0.6,2.9 C1.8,2.5 2.9,1.6 3.4,0.6 V13"/>
<path transform="translate(119.00 246.00)" d="M0.6,0.8 H6.4 C4.6,3.8 3.2,7.6 2.6,13"/>
<path transform="translate(204.40 270.30)" d="M0.8,3.6 C0.9,1.7 2,0.7 3.5,0.7 C5.1,0.7 6.1,1.8 6.1,3.6 C6.1,5.6 4.5,7.4 0.9,12.3 H6.6"/>
<path transform="translate(204.40 322.40)" d="M5.9,2.4 C5.5,1.3 4.6,0.7 3.6,0.7 C1.8,0.7 0.8,2.9 0.8,6.6 C0.8,10.3 1.8,12.3 3.6,12.3 C5.3,12.3 6.3,10.8 6.3,8.6 C6.3,6.4 5.3,5 3.6,5 C2.3,5 1.3,5.8 0.9,7"/>
<path transform="translate(204.40 373.00)" d="M0.8,3 C1.1,1.5 2.1,0.7 3.4,0.7 C5,0.7 6,1.7 6,3.3 C6,5 5,6.1 3,6.1 C5.2,6.1 6.3,7.3 6.3,9.2 C6.3,11.1 5.1,12.3 3.4,12.3 C2,12.3 1,11.5 0.6,10"/>
<path transform="translate(204.40 430.30)" d="M5.9,2.4 C5.5,1.3 4.6,0.7 3.6,0.7 C1.8,0.7 0.8,2.9 0.8,6.6 C0.8,10.3 1.8,12.3 3.6,12.3 C5.3,12.3 6.3,10.8 6.3,8.6 C6.3,6.4 5.3,5 3.6,5 C2.3,5 1.3,5.8 0.9,7"/>
<path transform="translate(196.00 488.00)" d="M6.3,3.2 C6,1.6 5,0.7 3.6,0.7 C1.7,0.7 0.7,2.9 0.7,6.5 C0.7,10.1 1.7,12.3 3.6,12.3 C5.3,12.3 6.3,11.2 6.3,9 V7.2 H3.9"/>
<path transform="translate(204.50 488.00)" d="M0.3,6.8 H6.6"/>
<path transform="translate(213.00 488.00)" d="M0.6,2.9 C1.8,2.5 2.9,1.6 3.4,0.6 V13"/>
<path transform="translate(196.00 580.00)" d="M6.3,3.2 C6,1.6 5,0.7 3.6,0.7 C1.7,0.7 0.7,2.9 0.7,6.5 C0.7,10.1 1.7,12.3 3.6,12.3 C5.3,12.3 6.3,11.2 6.3,9 V7.2 H3.9"/>
<path transform="translate(204.50 580.00)" d="M0.3,6.8 H6.6"/>
<path transform="translate(213.00 580.00)" d="M0.8,3.6 C0.9,1.7 2,0.7 3.5,0.7 C5.1,0.7 6.1,1.8 6.1,3.6 C6.1,5.6 4.5,7.4 0.9,12.3 H6.6"/>
<path transform="translate(178.00 635.00)" d="M0.6,2.9 C1.8,2.5 2.9,1.6 3.4,0.6 V13"/>
<path transform="translate(327.80 75.00)" d="M0.6,0.8 H6.4 C4.6,3.8 3.2,7.6 2.6,13"/>
<path transform="translate(365.00 66.00)" d="M5,13 V0.8 L0.6,9.3 H6.8"/>
<path transform="translate(397.50 59.00)" d="M0.6,0.8 H6.4 C4.6,3.8 3.2,7.6 2.6,13"/>
<path transform="translate(308.00 190.00)" d="M6.3,3.2 C6,1.6 5,0.7 3.6,0.7 C1.7,0.7 0.7,2.9 0.7,6.5 C0.7,10.1 1.7,12.3 3.6,12.3 C5.3,12.3 6.3,11.2 6.3,9 V7.2 H3.9"/>
<path transform="translate(316.50 190.00)" d="M0.3,6.8 H6.6"/>
<path transform="translate(325.00 190.00)" d="M0.8,3 C1.1,1.5 2.1,0.7 3.4,0.7 C5,0.7 6,1.7 6,3.3 C6,5 5,6.1 3,6.1 C5.2,6.1 6.3,7.3 6.3,9.2 C6.3,11.1 5.1,12.3 3.4,12.3 C2,12.3 1,11.5 0.6,10"/>
<path transform="translate(411.00 227.00)" d="M3.5,6.1 C1.9,6.1 1,5 1,3.4 C1,1.7 2,0.7 3.5,0.7 C5,0.7 6,1.7 6,3.4 C6,5 5.1,6.1 3.5,6.1 C1.7,6.1 0.7,7.3 0.7,9.2 C0.7,11.1 1.8,12.3 3.5,12.3 C5.2,12.3 6.3,11.1 6.3,9.2 C6.3,7.3 5.3,6.1 3.5,6.1 Z"/>
<path transform="translate(411.00 266.00)" d="M6,0.8 H1.6 L1,6.2 C1.6,5.4 2.5,5 3.4,5 C5.2,5 6.3,6.3 6.3,8.6 C6.3,10.9 5.1,12.3 3.4,12.3 C2,12.3 1,11.5 0.6,10.2"/>
<path transform="translate(411.00 305.00)" d="M3.5,6.1 C1.9,6.1 1,5 1,3.4 C1,1.7 2,0.7 3.5,0.7 C5,0.7 6,1.7 6,3.4 C6,5 5.1,6.1 3.5,6.1 C1.7,6.1 0.7,7.3 0.7,9.2 C0.7,11.1 1.8,12.3 3.5,12.3 C5.2,12.3 6.3,11.1 6.3,9.2 C6.3,7.3 5.3,6.1 3.5,6.1 Z"/>
<path transform="translate(535.50 312.50)" d="M0.6,2.9 C1.8,2.5 2.9,1.6 3.4,0.6 V13"/>
<path transform="translate(543.50 312.50)" d="M5,13 V0.8 L0.6,9.3 H6.8"/>
<path transform="translate(134.40 365.70)" d="M0.6,2.9 C1.8,2.5 2.9,1.6 3.4,0.6 V13"/>
<path transform="translate(142.40 365.70)" d="M3.5,0.7 C1.5,0.7 0.75,3 0.75,6.5 C0.75,10 1.5,12.3 3.5,12.3 C5.5,12.3 6.25,10 6.25,6.5 C6.25,3 5.5,0.7 3.5,0.7 Z"/>
<path transform="translate(134.40 392.80)" d="M0.6,2.9 C1.8,2.5 2.9,1.6 3.4,0.6 V13"/>
<path transform="translate(142.40 392.80)" d="M0.6,2.9 C1.8,2.5 2.9,1.6 3.4,0.6 V13"/>
<path transform="translate(134.40 422.00)" d="M0.6,2.9 C1.8,2.5 2.9,1.6 3.4,0.6 V13"/>
<path transform="translate(142.40 422.00)" d="M0.8,3.6 C0.9,1.7 2,0.7 3.5,0.7 C5.1,0.7 6.1,1.8 6.1,3.6 C6.1,5.6 4.5,7.4 0.9,12.3 H6.6"/>
<path transform="translate(350.00 365.70)" d="M0.6,2.9 C1.8,2.5 2.9,1.6 3.4,0.6 V13"/>
<path transform="translate(358.00 365.70)" d="M3.5,0.7 C1.5,0.7 0.75,3 0.75,6.5 C0.75,10 1.5,12.3 3.5,12.3 C5.5,12.3 6.25,10 6.25,6.5 C6.25,3 5.5,0.7 3.5,0.7 Z"/>
<path transform="translate(350.00 392.80)" d="M0.6,2.9 C1.8,2.5 2.9,1.6 3.4,0.6 V13"/>
<path transform="translate(358.00 392.80)" d="M0.6,2.9 C1.8,2.5 2.9,1.6 3.4,0.6 V13"/>
<path transform="translate(350.00 422.00)" d="M0.6,2.9 C1.8,2.5 2.9,1.6 3.4,0.6 V13"/>
<path transform="translate(358.00 422.00)" d="M0.8,3.6 C0.9,1.7 2,0.7 3.5,0.7 C5.1,0.7 6.1,1.8 6.1,3.6 C6.1,5.6 4.5,7.4 0.9,12.3 H6.6"/>
<path transform="translate(353.00 483.00)" d="M1.1,10.6 C1.5,11.7 2.4,12.3 3.4,12.3 C5.2,12.3 6.2,10.1 6.2,6.4 C6.2,2.7 5.2,0.7 3.4,0.7 C1.7,0.7 0.7,2.2 0.7,4.4 C0.7,6.6 1.7,8 3.4,8 C4.7,8 5.7,7.2 6.1,6"/>
<path transform="translate(561.30 435.50)" d="M0.6,2.9 C1.8,2.5 2.9,1.6 3.4,0.6 V13"/>
<path transform="translate(569.30 435.50)" d="M3.5,0.7 C1.5,0.7 0.75,3 0.75,6.5 C0.75,10 1.5,12.3 3.5,12.3 C5.5,12.3 6.25,10 6.25,6.5 C6.25,3 5.5,0.7 3.5,0.7 Z"/>
<path transform="translate(561.30 463.20)" d="M0.6,2.9 C1.8,2.5 2.9,1.6 3.4,0.6 V13"/>
<path transform="translate(569.30 463.20)" d="M0.6,2.9 C1.8,2.5 2.9,1.6 3.4,0.6 V13"/>
<path transform="translate(561.30 492.80)" d="M0.6,2.9 C1.8,2.5 2.9,1.6 3.4,0.6 V13"/>
<path transform="translate(569.30 492.80)" d="M0.8,3.6 C0.9,1.7 2,0.7 3.5,0.7 C5.1,0.7 6.1,1.8 6.1,3.6 C6.1,5.6 4.5,7.4 0.9,12.3 H6.6"/>
<path transform="translate(648.80 418.60)" d="M3.5,6.1 C1.9,6.1 1,5 1,3.4 C1,1.7 2,0.7 3.5,0.7 C5,0.7 6,1.7 6,3.4 C6,5 5.1,6.1 3.5,6.1 C1.7,6.1 0.7,7.3 0.7,9.2 C0.7,11.1 1.8,12.3 3.5,12.3 C5.2,12.3 6.3,11.1 6.3,9.2 C6.3,7.3 5.3,6.1 3.5,6.1 Z"/>
<path transform="translate(648.80 459.80)" d="M6,0.8 H1.6 L1,6.2 C1.6,5.4 2.5,5 3.4,5 C5.2,5 6.3,6.3 6.3,8.6 C6.3,10.9 5.1,12.3 3.4,12.3 C2,12.3 1,11.5 0.6,10.2"/>
<path transform="translate(648.80 502.00)" d="M3.5,6.1 C1.9,6.1 1,5 1,3.4 C1,1.7 2,0.7 3.5,0.7 C5,0.7 6,1.7 6,3.4 C6,5 5.1,6.1 3.5,6.1 C1.7,6.1 0.7,7.3 0.7,9.2 C0.7,11.1 1.8,12.3 3.5,12.3 C5.2,12.3 6.3,11.1 6.3,9.2 C6.3,7.3 5.3,6.1 3.5,6.1 Z"/>
<path transform="translate(648.80 536.00)" d="M6.3,3.2 C6,1.6 5,0.7 3.6,0.7 C1.7,0.7 0.7,2.9 0.7,6.5 C0.7,10.1 1.7,12.3 3.6,12.3 C5.3,12.3 6.3,11.2 6.3,9 V7.2 H3.9"/>
<path transform="translate(657.30 536.00)" d="M0.3,6.8 H6.6"/>
<path transform="translate(665.80 536.00)" d="M5,13 V0.8 L0.6,9.3 H6.8"/>
<path transform="translate(560.3 670)" d="M0.5,11 L5,0.6 L9.6,11 M2.2,7.6 H7.9"/>
</g>
<g font-family="Liberation Sans" font-size="18.5" fill="#333">
<text x="18.60" y="740.90">1.</text>
<text x="40.30" y="740.90" textLength="100.28" lengthAdjust="spacing">Power Flow</text>
<text x="18.60" y="763.20">2.</text>
<text x="40.30" y="763.20" textLength="128.88" lengthAdjust="spacing">Air intake pipe</text>
<text x="18.60" y="785.50">3.</text>
<text x="40.30" y="785.50" textLength="91.38" lengthAdjust="spacing">Joint hose</text>
<g fill="none" stroke="#333" stroke-width="1.45"><ellipse cx="145.30" cy="780.50" rx="4.6" ry="4.9" transform="rotate(20 145.30 780.50)"/><path d="M148.20,773.00 L143.20,788.10"/></g>
<text x="154.50" y="785.50" letter-spacing="0.6">80</text>
<text x="18.60" y="807.80">4.</text>
<text x="40.30" y="807.80" textLength="91.38" lengthAdjust="spacing">Joint hose</text>
<g fill="none" stroke="#333" stroke-width="1.45"><ellipse cx="145.30" cy="802.80" rx="4.6" ry="4.9" transform="rotate(20 145.30 802.80)"/><path d="M148.20,795.30 L143.20,810.40"/></g>
<text x="154.50" y="807.80" letter-spacing="0.6">60</text>
<text x="18.60" y="830.10">5.</text>
<text x="40.30" y="830.10" textLength="91.38" lengthAdjust="spacing">Joint hose</text>
<g fill="none" stroke="#333" stroke-width="1.45"><ellipse cx="145.30" cy="825.10" rx="4.6" ry="4.9" transform="rotate(20 145.30 825.10)"/><path d="M148.20,817.60 L143.20,832.70"/></g>
<text x="154.50" y="830.10" letter-spacing="0.6">28</text>
<text x="18.60" y="852.40">6.</text>
<text x="40.30" y="852.40" textLength="134.78" lengthAdjust="spacing">Hose band #56</text>
<text x="18.60" y="874.70">7.</text>
<text x="40.30" y="874.70" textLength="134.78" lengthAdjust="spacing">Hose band #48</text>
<text x="18.60" y="897.00">8.</text>
<text x="40.30" y="897.00" textLength="134.78" lengthAdjust="spacing">Hose band #16</text>
<text x="256.50" y="740.90">9.</text>
<text x="278.20" y="740.90" textLength="137.78" lengthAdjust="spacing">Air cleaner stay</text>
<text x="251.50" y="763.20">10.</text>
<text x="284.10" y="763.20" textLength="97.38" lengthAdjust="spacing">Bolt M6-15</text>
<text x="251.50" y="785.50">11.</text>
<text x="284.10" y="785.50" textLength="158.58" lengthAdjust="spacing">Spring washer M6</text>
<text x="251.50" y="807.80">12.</text>
<text x="284.10" y="807.80" textLength="142.78" lengthAdjust="spacing">Plain washer M6</text>
<text x="251.50" y="830.10">14.</text>
<text x="284.10" y="830.10" textLength="161.48" lengthAdjust="spacing">Recirculation hose</text>
<text x="251.50" y="852.40">15.</text>
<text x="284.10" y="852.40" textLength="85.68" lengthAdjust="spacing">Joint pipe</text>
<text x="251.50" y="874.70">16.</text>
<text x="284.10" y="874.70" textLength="119.38" lengthAdjust="spacing">Oilproof hose</text>
<g fill="none" stroke="#333" stroke-width="1.45"><ellipse cx="417.10" cy="869.70" rx="4.6" ry="4.9" transform="rotate(20 417.10 869.70)"/><path d="M420.00,862.20 L415.00,877.30"/></g>
<text x="424.70" y="874.70" letter-spacing="0.6">16</text>
<text x="251.50" y="897.00">17.</text>
<text x="284.10" y="897.00" textLength="102.48" lengthAdjust="spacing">Hose clamp</text>
<text x="508.30" y="740.90">G-1.</text>
<text x="549.80" y="740.90" textLength="191.38" lengthAdjust="spacing">Air flow meter (stock)</text>
<text x="508.30" y="763.20">G-2.</text>
<text x="549.80" y="763.20" textLength="120.08" lengthAdjust="spacing">O ring (stock)</text>
<text x="508.30" y="785.50">G-3.</text>
<g fill="none" stroke="#333" stroke-width="1.45"><ellipse cx="558.60" cy="780.50" rx="4.6" ry="4.9" transform="rotate(20 558.60 780.50)"/><path d="M561.50,773.00 L556.50,788.10"/></g>
<text x="567.80" y="785.50" textLength="128.10" lengthAdjust="spacing">4 Hose (stock)</text>
<text x="508.30" y="807.80">G-4.</text>
<text x="549.80" y="807.80" textLength="230.78" lengthAdjust="spacing">Recirculation valve (stock)</text>
<text x="508.30" y="830.10">G-5.</text>
<text x="549.80" y="830.10" textLength="168.88" lengthAdjust="spacing">Hose clamp (stock)</text>
<text x="508.30" y="852.40">G-6.</text>
<text x="549.80" y="852.40" textLength="182.88" lengthAdjust="spacing">Blow-by hose (stock)</text>
</g>
</svg>

</body></html>
